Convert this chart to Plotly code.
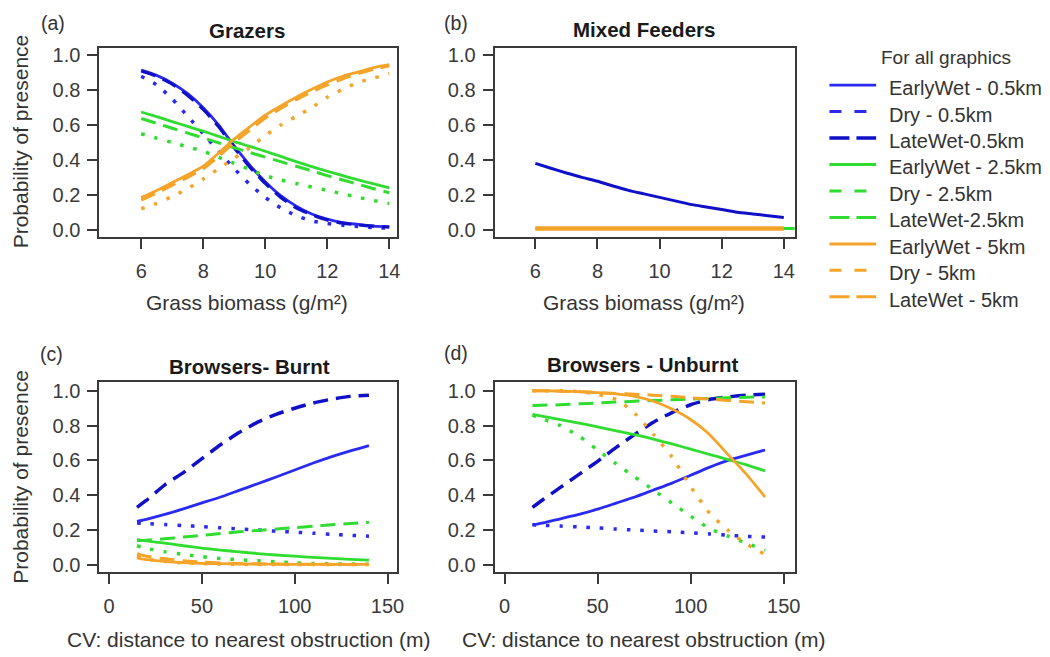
import plotly.graph_objects as go

# ---------------- data ----------------
x_grass = [6, 6.5, 7, 7.5, 8, 8.5, 9, 9.5, 10, 10.5, 11, 11.5, 12, 12.5, 13, 13.5, 14]

a_blue_ew = [0.915, 0.885, 0.84, 0.78, 0.70, 0.60, 0.48, 0.37, 0.275, 0.195, 0.135, 0.09, 0.06, 0.04, 0.03, 0.02, 0.015]
a_blue_dry = [0.88, 0.83, 0.75, 0.65, 0.55, 0.45, 0.35, 0.26, 0.185, 0.125, 0.08, 0.05, 0.035, 0.025, 0.018, 0.012, 0.008]
a_blue_lw = [0.91, 0.88, 0.835, 0.77, 0.69, 0.59, 0.47, 0.36, 0.265, 0.185, 0.125, 0.085, 0.055, 0.037, 0.027, 0.02, 0.015]
a_green_ew = [0.675, 0.648, 0.62, 0.592, 0.565, 0.535, 0.505, 0.478, 0.45, 0.42, 0.39, 0.362, 0.335, 0.31, 0.285, 0.262, 0.24]
a_green_dry = [0.55, 0.525, 0.50, 0.475, 0.45, 0.415, 0.38, 0.345, 0.31, 0.285, 0.265, 0.245, 0.225, 0.205, 0.185, 0.167, 0.15]
a_green_lw = [0.638, 0.61, 0.582, 0.554, 0.526, 0.498, 0.47, 0.443, 0.416, 0.39, 0.364, 0.337, 0.31, 0.285, 0.26, 0.235, 0.212]
a_or_ew = [0.184, 0.225, 0.27, 0.315, 0.364, 0.44, 0.52, 0.59, 0.657, 0.71, 0.76, 0.805, 0.847, 0.88, 0.905, 0.93, 0.947]
a_or_dry = [0.12, 0.15, 0.19, 0.235, 0.29, 0.35, 0.41, 0.47, 0.54, 0.60, 0.65, 0.70, 0.76, 0.805, 0.845, 0.87, 0.895]
a_or_lw = [0.17, 0.21, 0.255, 0.30, 0.35, 0.42, 0.50, 0.57, 0.64, 0.695, 0.745, 0.79, 0.83, 0.865, 0.895, 0.92, 0.94]

b_blue_ew = [0.38, 0.352, 0.325, 0.30, 0.278, 0.25, 0.225, 0.205, 0.185, 0.165, 0.145, 0.13, 0.115, 0.10, 0.09, 0.08, 0.07]
b_x_flat_green = [6, 14.4]
b_green_flat = [0.007, 0.007]
b_x_flat_or = [6, 14]
b_or_flat = [0.007, 0.007]

x_cv = [15, 20, 30, 40, 50, 60, 70, 80, 90, 100, 110, 120, 130, 140]

c_blue_ew = [0.25, 0.262, 0.29, 0.322, 0.356, 0.39, 0.428, 0.466, 0.505, 0.545, 0.585, 0.622, 0.655, 0.685]
c_blue_dry = [0.24, 0.238, 0.232, 0.226, 0.22, 0.213, 0.207, 0.20, 0.194, 0.188, 0.182, 0.176, 0.17, 0.165]
c_blue_lw = [0.33, 0.37, 0.46, 0.53, 0.61, 0.69, 0.76, 0.82, 0.865, 0.90, 0.93, 0.952, 0.968, 0.975]
c_green_ew = [0.145, 0.138, 0.125, 0.11, 0.097, 0.085, 0.075, 0.065, 0.057, 0.05, 0.043, 0.037, 0.032, 0.028]
c_green_dry = [0.11, 0.095, 0.075, 0.06, 0.047, 0.037, 0.03, 0.024, 0.018, 0.012, 0.008, 0.006, 0.005, 0.004]
c_green_lw = [0.14, 0.142, 0.15, 0.16, 0.17, 0.18, 0.19, 0.198, 0.206, 0.214, 0.222, 0.23, 0.238, 0.245]
c_or_ew = [0.04, 0.03, 0.02, 0.013, 0.009, 0.007, 0.005, 0.004, 0.004, 0.003, 0.003, 0.003, 0.003, 0.003]
c_or_dry = [0.05, 0.035, 0.02, 0.012, 0.008, 0.005, 0.004, 0.003, 0.003, 0.002, 0.002, 0.002, 0.002, 0.002]
c_or_lw = [0.065, 0.05, 0.035, 0.024, 0.016, 0.011, 0.008, 0.006, 0.005, 0.004, 0.004, 0.003, 0.003, 0.003]

d_blue_ew = [0.23, 0.24, 0.265, 0.29, 0.32, 0.355, 0.39, 0.43, 0.47, 0.515, 0.56, 0.60, 0.63, 0.66]
d_blue_dry = [0.23, 0.228, 0.223, 0.218, 0.212, 0.206, 0.20, 0.195, 0.19, 0.185, 0.178, 0.17, 0.164, 0.16]
d_blue_lw = [0.33, 0.37, 0.445, 0.52, 0.595, 0.675, 0.75, 0.82, 0.875, 0.92, 0.95, 0.965, 0.975, 0.98]
d_green_ew = [0.865, 0.855, 0.835, 0.815, 0.793, 0.77, 0.748, 0.722, 0.695, 0.665, 0.635, 0.605, 0.575, 0.54]
d_green_dry = [0.86, 0.84, 0.80, 0.74, 0.66, 0.58, 0.505, 0.43, 0.355, 0.28, 0.21, 0.165, 0.125, 0.085]
d_green_lw = [0.915, 0.917, 0.92, 0.925, 0.93, 0.935, 0.94, 0.944, 0.948, 0.952, 0.956, 0.96, 0.963, 0.965]
d_or_ew = [1.0, 1.0, 0.998, 0.995, 0.99, 0.982, 0.968, 0.94, 0.895, 0.835, 0.75, 0.635, 0.52, 0.39]
d_or_dry = [1.0, 1.0, 1.0, 0.995, 0.98, 0.95, 0.87, 0.75, 0.62, 0.45, 0.30, 0.20, 0.12, 0.06]
d_or_lw = [1.0, 1.0, 0.998, 0.995, 0.99, 0.985, 0.98, 0.975, 0.968, 0.96, 0.952, 0.945, 0.937, 0.93]

legend_labels = ["EarlyWet - 0.5km", "Dry - 0.5km", "LateWet-0.5km",
                 "EarlyWet - 2.5km", "Dry - 2.5km", "LateWet-2.5km",
                 "EarlyWet - 5km", "Dry - 5km", "LateWet - 5km"]
grass_ticks = [6, 8, 10, 12, 14]
cv_ticks = [0, 50, 100, 150]
prob_ticks = [0.0, 0.2, 0.4, 0.6, 0.8, 1.0]

# ---------------- styles ----------------
W, H = 1050, 657
FONT = "Liberation Sans, Arial, Helvetica, sans-serif"
BLUE = "#2a2af0"
BLUE_D = "#1010c8"
GREEN = "#30dc30"
ORANGE = "#f5a42a"
DOT = "3.5px,10px"
LDASH = "15px,8px"

def px(x):
    return x / W

def py(y):
    return 1 - y / H

fig = go.Figure()

def add(x, y, color, dash, width, ax):
    fig.add_trace(go.Scatter(x=x, y=y, mode="lines",
                             line=dict(color=color, dash=dash, width=width, shape="spline", smoothing=0.6),
                             xaxis="x" + ax, yaxis="y" + ax, showlegend=False, hoverinfo="skip"))

# panel a
add(x_grass, a_blue_ew, BLUE, "solid", 2.8, "")
add(x_grass, a_blue_dry, BLUE, DOT, 3.5, "")
add(x_grass, a_blue_lw, BLUE_D, LDASH, 3.2, "")
add(x_grass, a_green_ew, GREEN, "solid", 2.8, "")
add(x_grass, a_green_dry, GREEN, DOT, 3.5, "")
add(x_grass, a_green_lw, GREEN, LDASH, 3, "")
add(x_grass, a_or_ew, ORANGE, "solid", 2.8, "")
add(x_grass, a_or_dry, ORANGE, DOT, 3.5, "")
add(x_grass, a_or_lw, ORANGE, LDASH, 3, "")
# panel b
add(x_grass, b_blue_ew, BLUE_D, "solid", 3, "2")
add(b_x_flat_green, b_green_flat, GREEN, "solid", 3, "2")
add(b_x_flat_or, b_or_flat, ORANGE, "solid", 4.5, "2")
# panel c
add(x_cv, c_blue_ew, BLUE, "solid", 2.8, "3")
add(x_cv, c_blue_dry, BLUE, DOT, 3.5, "3")
add(x_cv, c_blue_lw, BLUE_D, LDASH, 3.5, "3")
add(x_cv, c_green_ew, GREEN, "solid", 2.8, "3")
add(x_cv, c_green_dry, GREEN, DOT, 3.5, "3")
add(x_cv, c_green_lw, GREEN, LDASH, 3, "3")
add(x_cv, c_or_ew, ORANGE, "solid", 2.8, "3")
add(x_cv, c_or_dry, ORANGE, DOT, 3.5, "3")
add(x_cv, c_or_lw, ORANGE, LDASH, 3, "3")
# panel d
add(x_cv, d_blue_ew, BLUE, "solid", 2.8, "4")
add(x_cv, d_blue_dry, BLUE, DOT, 3.5, "4")
add(x_cv, d_blue_lw, BLUE_D, LDASH, 3.5, "4")
add(x_cv, d_green_ew, GREEN, "solid", 2.8, "4")
add(x_cv, d_green_dry, GREEN, DOT, 3.5, "4")
add(x_cv, d_green_lw, GREEN, LDASH, 3, "4")
add(x_cv, d_or_ew, ORANGE, "solid", 2.8, "4")
add(x_cv, d_or_dry, ORANGE, DOT, 3.5, "4")
add(x_cv, d_or_lw, ORANGE, LDASH, 3, "4")

TICKFONT = dict(family=FONT, size=20, color="#3a3a3a")

def xax(dom, rng, ticks):
    return dict(domain=[px(dom[0]), px(dom[1])], range=rng, tickvals=ticks,
                showline=True, mirror=True, linecolor="#3a3a3a", linewidth=2,
                ticks="outside", ticklen=10, tickwidth=1.6, tickcolor="#3a3a3a",
                showgrid=False, zeroline=False, tickfont=TICKFONT, ticklabelstandoff=5,
                fixedrange=True)

def yax(dom, rng, anchor):
    return dict(domain=[py(dom[1]), py(dom[0])], range=rng, tickvals=prob_ticks,
                tickformat=".1f", anchor=anchor,
                showline=True, mirror=True, linecolor="#3a3a3a", linewidth=2,
                ticks="outside", ticklen=10, tickwidth=1.6, tickcolor="#3a3a3a",
                showgrid=False, zeroline=False, tickfont=TICKFONT, ticklabelstandoff=3,
                fixedrange=True)

TOP = (45, 237)
BOT = (383, 575)
LEFT = (100, 400)
RIGHT = (498, 800)

fig.update_layout(
    width=W, height=H, margin=dict(l=0, r=0, t=0, b=0),
    paper_bgcolor="white", plot_bgcolor="white", showlegend=False,
    xaxis=dict(xax(LEFT, [4.65, 14.26], grass_ticks), anchor="y"),
    yaxis=yax(TOP, [-0.045, 1.045], "x"),
    xaxis2=dict(xax(RIGHT, [4.69, 14.35], grass_ticks), anchor="y2"),
    yaxis2=yax(TOP, [-0.045, 1.045], "x2"),
    xaxis3=dict(xax(LEFT, [-5.3, 155.3], cv_ticks), anchor="y3"),
    yaxis3=yax(BOT, [-0.04, 1.051], "x3"),
    xaxis4=dict(xax(RIGHT, [-5.3, 155.9], cv_ticks), anchor="y4"),
    yaxis4=yax(BOT, [-0.04, 1.051], "x4"),
)

ann = []
def text(x, y, s, size=20, bold=False, color="#333333", xanchor="center", angle=0):
    ann.append(dict(x=px(x), y=py(y), xref="paper", yref="paper", text=("<b>%s</b>" % s) if bold else s,
                    showarrow=False, xanchor=xanchor, yanchor="middle", textangle=angle,
                    font=dict(family=FONT, size=size, color=color)))

text(53, 20, "(a)", 19.5)
text(459, 20, "(b)", 19.5)
text(52, 355, "(c)", 19.5)
text(459, 354, "(d)", 19.5)
text(249, 28, "Grazers", 20.5, True, "#1a1a1a")
text(648, 27, "Mixed Feeders", 20.5, True, "#1a1a1a")
text(251, 367, "Browsers- Burnt", 20.5, True, "#1a1a1a")
text(647, 365, "Browsers - Unburnt", 20.5, True, "#1a1a1a")
text(249, 303, "Grass biomass (g/m²)", 21)
text(648, 303, "Grass biomass (g/m²)", 21)
text(250, 643, "CV: distance to nearest obstruction (m)", 21)
text(648, 643, "CV: distance to nearest obstruction (m)", 21)
text(21, 140, "Probability of presence", 21, angle=-90)
text(21, 479, "Probability of presence", 21, angle=-90)

# manual legend
text(952, 55, "For all graphics", 19)
leg_colors = [BLUE, BLUE, BLUE_D, GREEN, GREEN, GREEN, ORANGE, ORANGE, ORANGE]
leg_dash = ["solid", "12px,13px", "20px,7px"] * 3
leg_width = [2.6, 3, 3.5, 3, 3, 3, 3, 3, 3]
shapes = []
for i, lab in enumerate(legend_labels):
    yy = 83 + 26.75 * i
    shapes.append(dict(type="line", xref="paper", yref="paper", x0=px(835), x1=px(882),
                       y0=py(yy), y1=py(yy),
                       line=dict(color=leg_colors[i], dash=leg_dash[i], width=leg_width[i])))
    text(893, yy + 3, lab, 20, xanchor="left")

fig.update_layout(annotations=ann, shapes=shapes)
fig.write_html("out.html")
